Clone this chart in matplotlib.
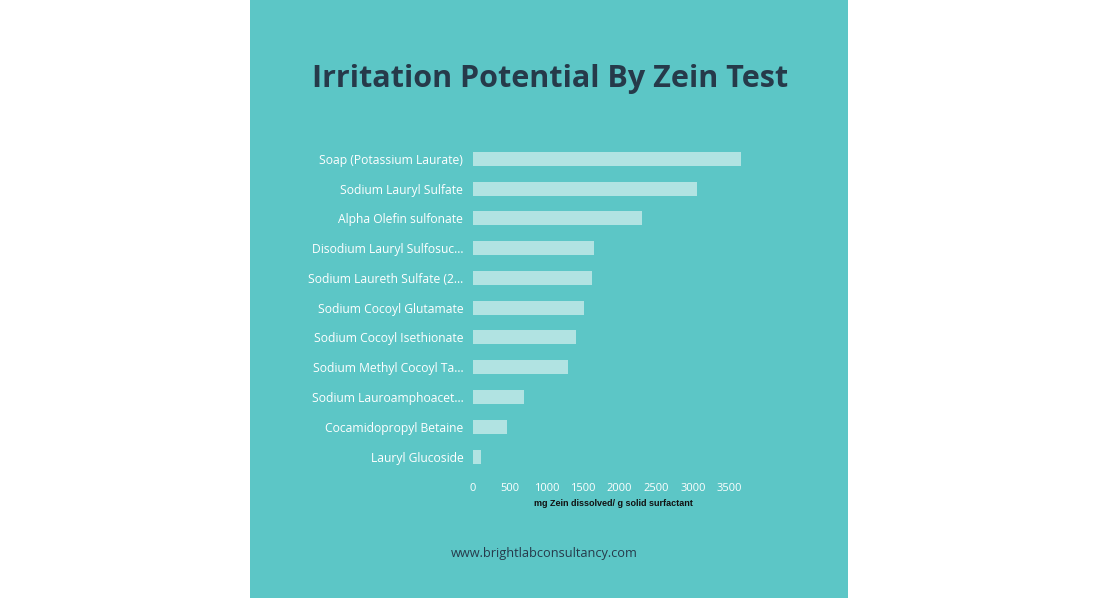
import matplotlib.pyplot as plt
from matplotlib.patches import Rectangle

# data
surfactants = ['Soap (Potassium Laurate)', 'Sodium Lauryl Sulfate', 'Alpha Olefin sulfonate',
               'Disodium Lauryl Sulfosuc...', 'Sodium Laureth Sulfate (2...',
               'Sodium Cocoyl Glutamate', 'Sodium Cocoyl Isethionate',
               'Sodium Methyl Cocoyl Ta...', 'Sodium Lauroamphoacet...',
               'Cocamidopropyl Betaine', 'Lauryl Glucoside']
zein = [3650, 3060, 2300, 1650, 1630, 1520, 1400, 1290, 700, 460, 110]
ticks = [0, 500, 1000, 1500, 2000, 2500, 3000, 3500]

bg = '#5cc6c6'
bar_col = '#b1e3e2'
dark = '#263a4a'

fig = plt.figure(figsize=(11, 6), dpi=100)
fig.patch.set_facecolor('white')
# teal panel behind everything
fig.patches.append(Rectangle((250/1100, 2/600), 598/1100, 598/600, transform=fig.transFigure,
                             facecolor=bg, edgecolor='none', zorder=-5))

fig.text(550/1100, 1 - 79/600, 'Irritation Potential By Zein Test', ha='center', va='center',
         fontsize=22, fontweight='bold', color=dark, family='Open Sans')

# axes: x from 473 to 753 px, rows centred 159..458 px
ax = fig.add_axes([473/1100, 1 - 473/600, 280/1100, 330/600])
ax.set_zorder(2)
ax.set_facecolor('none')
y = list(range(len(surfactants)))
ax.barh(y, zein, height=0.47, color=bar_col, edgecolor='none')
ax.set_yticks(y)
ax.set_yticklabels(surfactants, color='white', fontsize=8.7, family='Open Sans')
ax.set_ylim(len(surfactants) - 0.5 + 0.05, -0.5 - 0.03)
ax.set_xlim(0, 3820)
ax.set_xticks(ticks)
ax.set_xticklabels([str(t) for t in ticks], color='white', fontsize=8, family='Open Sans')
ax.tick_params(length=0)
ax.tick_params(axis='y', pad=7)
ax.tick_params(axis='x', pad=7)
ax.set_xlabel('mg Zein dissolved/ g solid surfactant', fontsize=6.5, fontweight='bold',
              color='#111111', labelpad=4, family='Liberation Sans')
for s in ax.spines.values():
    s.set_visible(False)

fig.text(544/1100, 1 - 553/600, 'www.brightlabconsultancy.com', ha='center', va='center',
         fontsize=9.2, color=dark, family='Open Sans')

fig.savefig('out.png', dpi=100, facecolor='white')
